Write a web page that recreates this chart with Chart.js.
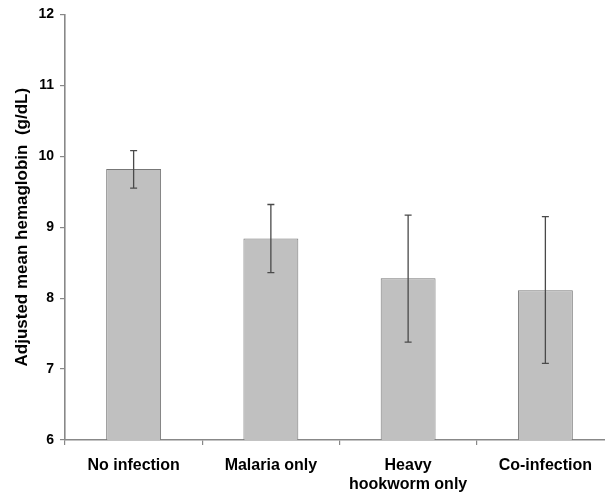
<!DOCTYPE html>
<html>
<head>
<meta charset="utf-8">
<script src="https://cdn.jsdelivr.net/npm/chart.js@4/dist/chart.umd.min.js"></script>
<style>
html,body{margin:0;padding:0;background:#fff;overflow:hidden;}
#wrap{width:605px;height:495px;overflow:hidden;position:relative;}
canvas{display:block;}
</style>
</head>
<body>
<div id="wrap"><canvas id="c" width="615" height="495" style="width:615px;height:495px"></canvas></div>
<script>
const categories = ['No infection', 'Malaria only', ['Heavy', 'hookworm only'], 'Co-infection'];
const means = [9.82, 8.84, 8.28, 8.11];
const lowerCI = [9.55, 8.36, 7.38, 7.08];
const upperCI = [10.08, 9.32, 9.17, 9.15];
const yTicks = [6, 7, 8, 9, 10, 11, 12];

const errorBars = {
  id: 'errorBars',
  afterDatasetsDraw(chart) {
    const ctx = chart.ctx;
    const meta = chart.getDatasetMeta(0);
    const y = chart.scales.y;
    ctx.save();
    ctx.strokeStyle = '#4a4a4a';
    ctx.lineWidth = 1.3;
    meta.data.forEach((bar, i) => {
      const x = bar.x;
      const yt = y.getPixelForValue(upperCI[i]);
      const yb = y.getPixelForValue(lowerCI[i]);
      ctx.beginPath();
      ctx.moveTo(x, yt); ctx.lineTo(x, yb);
      ctx.moveTo(x - 3.5, yt); ctx.lineTo(x + 3.5, yt);
      ctx.moveTo(x - 3.5, yb); ctx.lineTo(x + 3.5, yb);
      ctx.stroke();
    });
    ctx.restore();
  }
};

new Chart(document.getElementById('c'), {
  type: 'bar',
  data: {
    labels: categories,
    datasets: [{
      data: means,
      backgroundColor: '#c0c0c0',
      borderColor: '#777777',
      borderWidth: 1,
      barPercentage: 0.8,
      categoryPercentage: 0.5
    }]
  },
  options: {
    responsive: false,
    animation: false,
    devicePixelRatio: 1,
    layout: { padding: { top: 14, right: 1, left: 0, bottom: 0 } },
    plugins: { legend: { display: false }, tooltip: { enabled: false } },
    scales: {
      x: {
        grid: { display: true, drawOnChartArea: false, offset: true, color: '#888', tickLength: 5, lineWidth: 1.2 },
        border: { display: true, color: '#888', width: 1.6 },
        ticks: {
          color: '#000',
          font: { family: 'Liberation Sans, Arial, sans-serif', size: 16, weight: 'bold' },
          padding: 11,
          maxRotation: 0,
          autoSkip: false
        },
        afterFit(s) { s.height = 55; }
      },
      y: {
        min: 6, max: 12,
        afterBuildTicks(s) { s.ticks = yTicks.map(v => ({ value: v })); },
        grid: { display: true, drawOnChartArea: false, color: '#888', tickLength: 5, lineWidth: 1.2 },
        border: { display: true, color: '#888', width: 1.6 },
        ticks: {
          color: '#000',
          font: { family: 'Liberation Sans, Arial, sans-serif', size: 14, weight: 'bold' },
          padding: 6
        },
        title: {
          display: true,
          text: 'Adjusted mean hemaglobin  (g/dL)',
          color: '#000',
          font: { family: 'Liberation Sans, Arial, sans-serif', size: 17, weight: 'bold' },
          padding: { top: 12, bottom: 0 }
        },
        afterFit(s) { s.width = 65; }
      }
    }
  },
  plugins: [errorBars]
});
</script>
</body>
</html>
